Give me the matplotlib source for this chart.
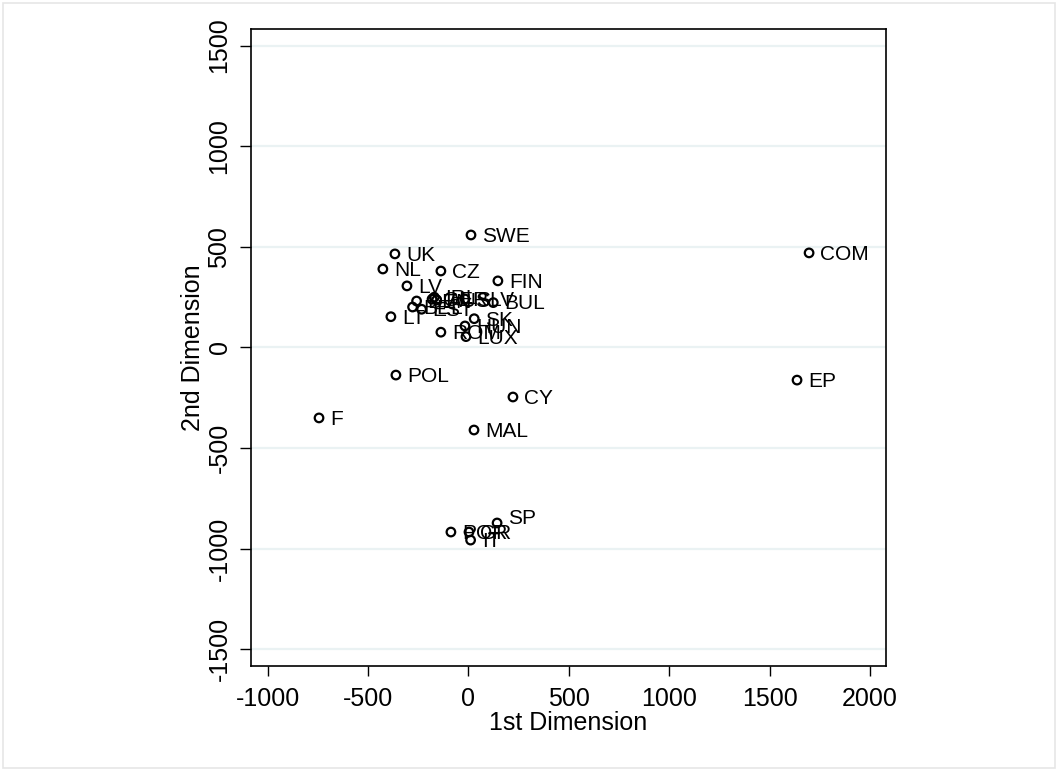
import matplotlib
matplotlib.use("Agg")
import matplotlib.pyplot as plt
from matplotlib.patches import Rectangle

# Actor positions on the two scaled dimensions
actors = ["SWE", "UK", "NL", "CZ", "FIN", "LV", "COM", "DEN", "BEL", "EST",
          "GER", "IRL", "AUS", "SLV", "BUL", "LT", "SK", "HUN", "ROM", "LUX",
          "EP", "POL", "CY", "F", "MAL", "POR", "GR", "IT", "SP"]
dim1 = [13, -366, -426, -137, 147, -306, 1697, -258, -278, -233,
        -181, -170, -158, -17, 124, -386, 29, -17, -137, -12,
        1637, -361, 222, -744, 28, -87, 3, 11, 143]
dim2 = [559, 465, 390, 380, 331, 306, 470, 231, 201, 190,
        240, 250, 236, 241, 223, 153, 143, 107, 76, 54,
        -162, -137, -246, -350, -410, -917, -917, -957, -872]
# labels placed above-right (2 o'clock) instead of at 3 o'clock
raised = ["SP"]

x_ticks = [-1000, -500, 0, 500, 1000, 1500, 2000]
y_ticks = [-1500, -1000, -500, 0, 500, 1000, 1500]

plt.rcParams["font.family"] = ["Liberation Sans", "DejaVu Sans"]

fig = plt.figure(figsize=(10.58, 7.71), dpi=100)
fig.patches.append(Rectangle((0.003, 0.004), 0.994, 0.992, transform=fig.transFigure,
                             fill=False, edgecolor="#e6e6e6", linewidth=1.2))
ax = fig.add_axes([0.2372, 0.1366, 0.6002, 0.8254])

for y in y_ticks:
    ax.axhline(y, color="#eaf2f3", linewidth=1.6, zorder=0)

ax.scatter(dim1, dim2, s=38, facecolors="none", edgecolors="black", linewidths=1.6, zorder=3)
for name, x, y in zip(actors, dim1, dim2):
    dy = 3 if name in raised else -1
    ax.annotate(name, (x, y), xytext=(8, dy), textcoords="offset points",
                ha="left", va="center", fontsize=15, zorder=4)

ax.set_xlim(-1083, 2080)
ax.set_ylim(-1581, 1581)
ax.set_xticks(x_ticks)
ax.set_yticks(y_ticks)
ax.set_xticklabels([str(v) for v in x_ticks], fontsize=18)
ax.set_yticklabels([str(v) for v in y_ticks], fontsize=18, rotation=90, va="center")
ax.tick_params(axis="x", direction="out", length=7, width=1, pad=8)
ax.tick_params(axis="y", direction="out", length=8, width=1, pad=6)
ax.set_xlabel("1st Dimension", fontsize=18, labelpad=0)
ax.set_ylabel("2nd Dimension", fontsize=18, labelpad=2)
for s in ax.spines.values():
    s.set_linewidth(1.2)

fig.savefig("out.png", dpi=100)
